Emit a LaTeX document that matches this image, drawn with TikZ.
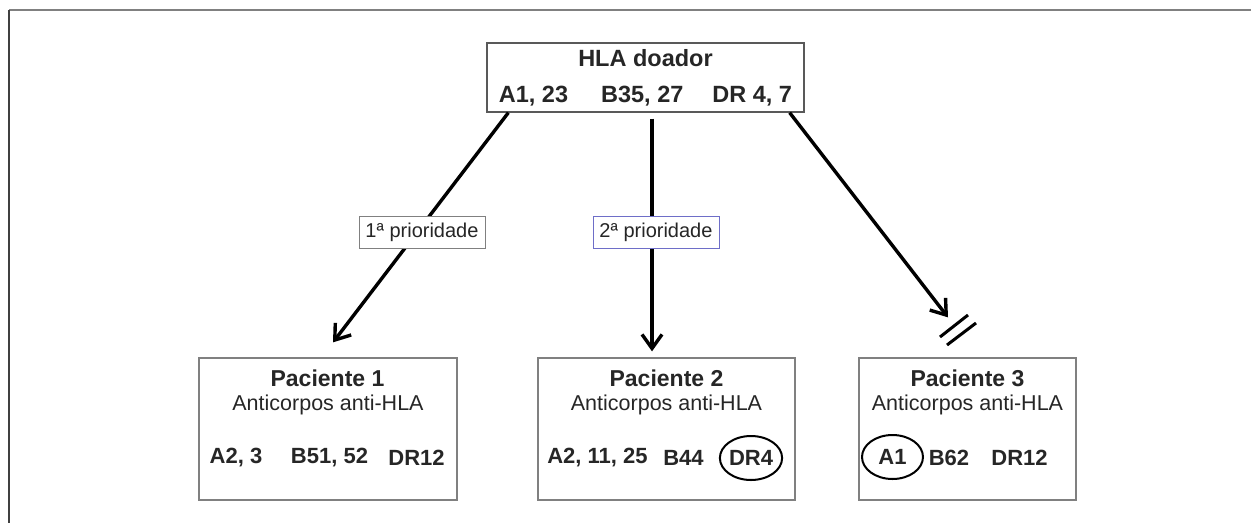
\documentclass[tikz,border=0pt]{standalone}
\usepackage{fontspec}
\setmainfont{Liberation Sans}
\usetikzlibrary{arrows.meta,shapes.geometric}

\begin{document}
\begin{tikzpicture}[x=1pt, y=-1pt,
        box/.style={rectangle, draw=black!50, line width=1.3pt, inner sep=0pt, text=black!85},
        donor/.style={box, draw=black!65, minimum width=317pt, minimum height=69pt, align=center, font=\fontsize{23.5}{36}\selectfont\bfseries},
        patient/.style={box, minimum height=142pt},
        title/.style={inner sep=0pt, text=black!85, font=\fontsize{23}{27}\selectfont\bfseries},
        subtitle/.style={inner sep=0pt, text=black!85, font=\fontsize{21.5}{25}\selectfont},
        allele/.style={inner sep=0pt, text=black!85, font=\fontsize{22}{26}\selectfont\bfseries},
        match/.style={allele, ellipse, draw=black, line width=2pt, minimum width=61pt, minimum height=44pt},
        prio/.style={box, fill=white, line width=1pt, minimum width=126pt, minimum height=32pt, font=\fontsize{20}{24}\selectfont},
        arrow/.style={-{Straight Barb[length=14pt,width=20pt]}, line width=3.4pt},
        block/.style={line width=3pt}
    ]
        \useasboundingbox (0,0) rectangle (1251,523);

        % Frame
        \draw[gray, line width=2pt] (9,10) -- (1251,10);
        \draw[black!75, line width=2pt] (9,10) -- (9,523);

        % Nodes
        \node[donor] (doador) at (645.5,77.5) {HLA doador\\A1, 23\hspace{33pt}B35, 27\hspace{29pt}DR 4, 7};

        \node[patient, minimum width=258pt] (p1) at (328,429) {};
        \node[patient, minimum width=257pt] (p2) at (666.5,429) {};
        \node[patient, minimum width=217pt] (p3) at (967.5,429) {};

        \node[title] (p1t) at (327.5,378) {Paciente 1};
        \node[title] (p2t) at (666.5,378) {Paciente 2};
        \node[title] (p3t) at (967.5,378) {Paciente 3};
        \node[subtitle] (p1s) at (328,405) {Anticorpos anti-HLA};
        \node[subtitle] (p2s) at (666.5,405) {Anticorpos anti-HLA};
        \node[subtitle] (p3s) at (967.5,405) {Anticorpos anti-HLA};

        \node[allele] (p1a) at (236,458) {A2, 3};
        \node[allele] (p1b) at (329.5,458) {B51, 52};
        \node[allele] (p1dr) at (416.5,458) {DR12};
        \node[allele] (p2a) at (597.5,458) {A2, 11, 25};
        \node[allele] (p2b) at (683.5,458) {B44};
        \node[match] (p2dr) at (751,458) {DR4};
        \node[match] (p3a) at (892.5,457) {A1};
        \node[allele] (p3b) at (949,458) {B62};
        \node[allele] (p3dr) at (1019.5,458) {DR12};

        % Arrows
        \draw[arrow] ([xshift=22pt]doador.south west) -- ([xshift=5pt,yshift=15pt]p1.north);
        \draw[arrow] ([xshift=6.5pt,yshift=-6pt]doador.south) -- ([xshift=-14.5pt,yshift=6pt]p2.north);
        \draw[arrow] ([xshift=-15pt]doador.south east) -- ([xshift=-19.5pt,yshift=40pt]p3.north);
        \draw[block] (940,337) -- (968,315);
        \draw[block] (947,345) -- (976,323);

        % Labels
        \node[prio] (prio1) at (422,232) {1ª prioridade};
        \node[prio, draw={rgb,255:red,110;green,110;blue,200}] (prio2) at (656,232) {2ª prioridade};
    \end{tikzpicture}
\end{document}
